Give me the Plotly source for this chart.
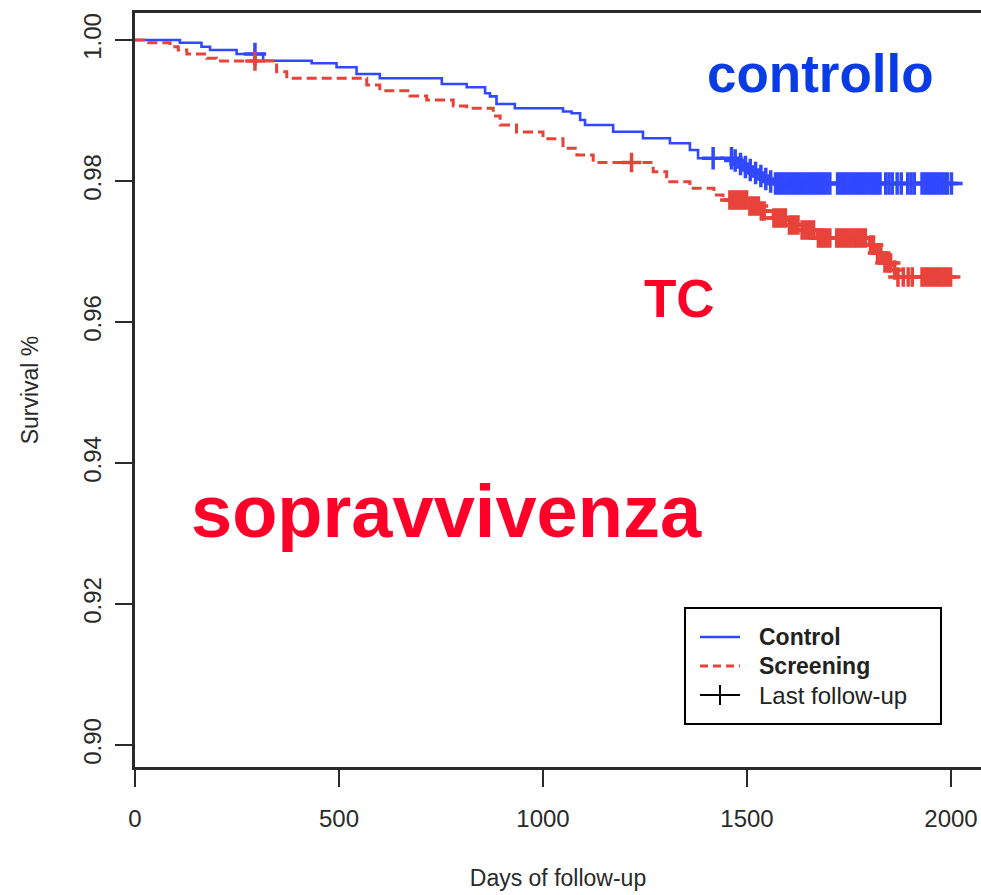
import numpy as np
import plotly.graph_objects as go

# ---- data ----
ctrl_t = [0, 110, 163, 184, 249, 314, 433, 494, 543, 600, 752, 813, 858, 870, 886, 931,
          1049, 1070, 1091, 1103, 1172, 1245, 1311, 1360, 1380, 1465, 1478, 1490, 1502,
          1515, 1528, 1540, 1552, 1564]
ctrl_s = [1.0, 0.99962, 0.99905, 0.99858, 0.99801, 0.99706, 0.99670, 0.99613, 0.99518,
          0.99457, 0.99376, 0.99329, 0.99244, 0.99200, 0.99092, 0.99031, 0.98985, 0.98960,
          0.98865, 0.98794, 0.98699, 0.98606, 0.98535, 0.98440, 0.98322, 0.98290, 0.98241,
          0.98199, 0.98156, 0.98113, 0.98071, 0.98028, 0.97993, 0.97965]
ctrl_cens = [294, 1417, 1462, 1471, 1484, 1496, 1508, 1521, 1534, 1546, 1558, 1570, 1577,
             1584, 1591, 1598, 1605, 1612, 1619, 1626, 1633, 1640, 1647, 1654, 1661, 1668,
             1675, 1682, 1689, 1696, 1703, 1722, 1729, 1736, 1743, 1750, 1757, 1764, 1771,
             1778, 1785, 1792, 1799, 1806, 1813, 1820, 1826, 1840, 1848, 1856, 1868, 1878,
             1894, 1902, 1910, 1929, 1936, 1943, 1950, 1957, 1964, 1971, 1978, 1985, 1991,
             2001]

scr_t = [0, 25, 86, 106, 127, 176, 200, 347, 372, 568, 600, 674, 715, 780, 813, 878, 895,
         935, 1000, 1049, 1083, 1123, 1270, 1303, 1360, 1419, 1441, 1502, 1530, 1564, 1600,
         1630, 1671, 1800, 1816, 1833, 1858, 1866]
scr_s = [1.0, 0.99962, 0.99905, 0.99858, 0.99801, 0.99740, 0.99702, 0.99550, 0.99457,
         0.99362, 0.99281, 0.99206, 0.99149, 0.99064, 0.99031, 0.98922, 0.98794, 0.98695,
         0.98600, 0.98464, 0.98369, 0.98262, 0.98132, 0.97990, 0.97896, 0.97801, 0.97730,
         0.97645, 0.97574, 0.97475, 0.97376, 0.97305, 0.97191, 0.97092, 0.96979, 0.96837,
         0.96738, 0.96638]
scr_cens = [294, 1217, 1458, 1465, 1472, 1479, 1486, 1493, 1499, 1507, 1514, 1521, 1528,
            1535, 1542, 1566, 1573, 1580, 1587, 1594, 1604, 1611, 1618, 1625, 1635, 1642,
            1649, 1656, 1663, 1675, 1682, 1689, 1696, 1703, 1720, 1727, 1734, 1741, 1748,
            1755, 1762, 1769, 1776, 1783, 1790, 1803, 1810, 1820, 1828, 1838, 1845, 1852,
            1862, 1870, 1883, 1895, 1905, 1929, 1936, 1943, 1950, 1957, 1964, 1971, 1978,
            1985, 1991, 1999]

x_ticks = [0, 500, 1000, 1500, 2000]
y_ticks = [0.90, 0.92, 0.94, 0.96, 0.98, 1.00]
y_ticklabels = ["0.90", "0.92", "0.94", "0.96", "0.98", "1.00"]
legend_labels = ["<b>Control</b>", "<b>Screening</b>", "Last follow-up"]

BLUE = "#3048ff"
RED = "#e8433a"
FONT = "Liberation Sans, Arial, sans-serif"
AXC = "#2a2a2a"


def at(ts, ss, q):
    idx = np.searchsorted(np.array(ts), np.array(q), side="right") - 1
    return list(np.array(ss)[idx])


def curve(ts, ss, cens):
    return list(ts) + [max(cens)], list(ss) + [ss[-1]]


fig = go.Figure()

cx, cy = curve(ctrl_t, ctrl_s, ctrl_cens)
sx, sy = curve(scr_t, scr_s, scr_cens)

fig.add_trace(go.Scatter(x=cx, y=cy, mode="lines", line_shape="hv",
                         line=dict(color=BLUE, width=2.6), showlegend=False))
fig.add_trace(go.Scatter(x=sx, y=sy, mode="lines", line_shape="hv",
                         line=dict(color=RED, width=3, dash="10px,5px"),
                         showlegend=False))
fig.add_trace(go.Scatter(x=ctrl_cens, y=at(ctrl_t, ctrl_s, ctrl_cens), mode="markers",
                         marker=dict(symbol="cross-thin", size=16,
                                     line=dict(color=BLUE, width=3.5)),
                         showlegend=False))
fig.add_trace(go.Scatter(x=scr_cens, y=at(scr_t, scr_s, scr_cens), mode="markers",
                         marker=dict(symbol="cross-thin", size=14,
                                     line=dict(color=RED, width=3.5)),
                         showlegend=False))

W, H = 981, 895
L, R, T, B = 135, 0, 13, 128

fig.update_layout(
    width=W, height=H,
    margin=dict(l=L, r=R, t=T, b=B),
    paper_bgcolor="white", plot_bgcolor="white",
    font=dict(family=FONT, color=AXC, size=24),
    showlegend=False,
    xaxis=dict(range=[0, 2073.5], tickvals=x_ticks, ticktext=[str(v) for v in x_ticks],
               showgrid=False, zeroline=False, showline=True, linecolor=AXC,
               linewidth=2.5, mirror=True, ticks="outside", ticklen=17, tickwidth=2,
               tickcolor=AXC, ticklabelstandoff=11, tickfont=dict(size=24),
               title=dict(text="Days of follow-up", standoff=40,
                          font=dict(size=23, color=AXC))),
    yaxis=dict(range=[0.89688, 1.00383], tickvals=y_ticks, ticktext=y_ticklabels,
               tickangle=-90, showgrid=False, zeroline=False, showline=True,
               linecolor=AXC, linewidth=2.5, mirror=False, ticks="outside",
               ticklen=17, tickwidth=2, tickcolor=AXC, ticklabelstandoff=5,
               tickfont=dict(size=24),
               title=dict(text="Survival %", standoff=34,
                          font=dict(size=23, color=AXC))),
)

pw, ph = W - L - R, H - T - B


def px(x):
    return (x - L) / pw


def py(y):
    return (H - B - y) / ph


# ---- hand-drawn legend box (matches the R-style legend) ----
fig.add_shape(type="rect", xref="paper", yref="paper", x0=px(685), x1=px(941),
              y0=py(724), y1=py(608), line=dict(color="black", width=2),
              fillcolor="white", layer="above")
rows = [637, 666, 695]
fig.add_shape(type="line", xref="paper", yref="paper", x0=px(700), x1=px(740),
              y0=py(rows[0]), y1=py(rows[0]), line=dict(color=BLUE, width=2.6))
fig.add_shape(type="line", xref="paper", yref="paper", x0=px(700), x1=px(740),
              y0=py(rows[1]), y1=py(rows[1]), line=dict(color=RED, width=3, dash="8px,5px"))
fig.add_shape(type="line", xref="paper", yref="paper", x0=px(700), x1=px(740),
              y0=py(rows[2]), y1=py(rows[2]), line=dict(color="black", width=2))
fig.add_shape(type="line", xref="paper", yref="paper", x0=px(720), x1=px(720),
              y0=py(rows[2] - 10), y1=py(rows[2] + 10), line=dict(color="black", width=2))
for lab, ry, sz in zip(legend_labels, rows, [23, 23, 24]):
    fig.add_annotation(text=lab, x=px(757), y=py(ry), xref="paper", yref="paper",
                       showarrow=False, xanchor="left", yanchor="middle",
                       font=dict(family=FONT, size=sz, color="#222222"))

fig.add_annotation(text="<b>controllo</b>", x=px(820), y=py(74), xref="paper", yref="paper",
                   showarrow=False, font=dict(family=FONT, size=53, color="#0a3ce6"),
                   xanchor="center", yanchor="middle")
fig.add_annotation(text="<b>TC</b>", x=px(679), y=py(298), xref="paper", yref="paper",
                   showarrow=False, font=dict(family=FONT, size=53, color="#ff0028"),
                   xanchor="center", yanchor="middle")
fig.add_annotation(text="<b>sopravvivenza</b>", x=px(446), y=py(511), xref="paper",
                   yref="paper", showarrow=False,
                   font=dict(family=FONT, size=74, color="#ff0028"),
                   xanchor="center", yanchor="middle")

fig.write_html("out.html")
